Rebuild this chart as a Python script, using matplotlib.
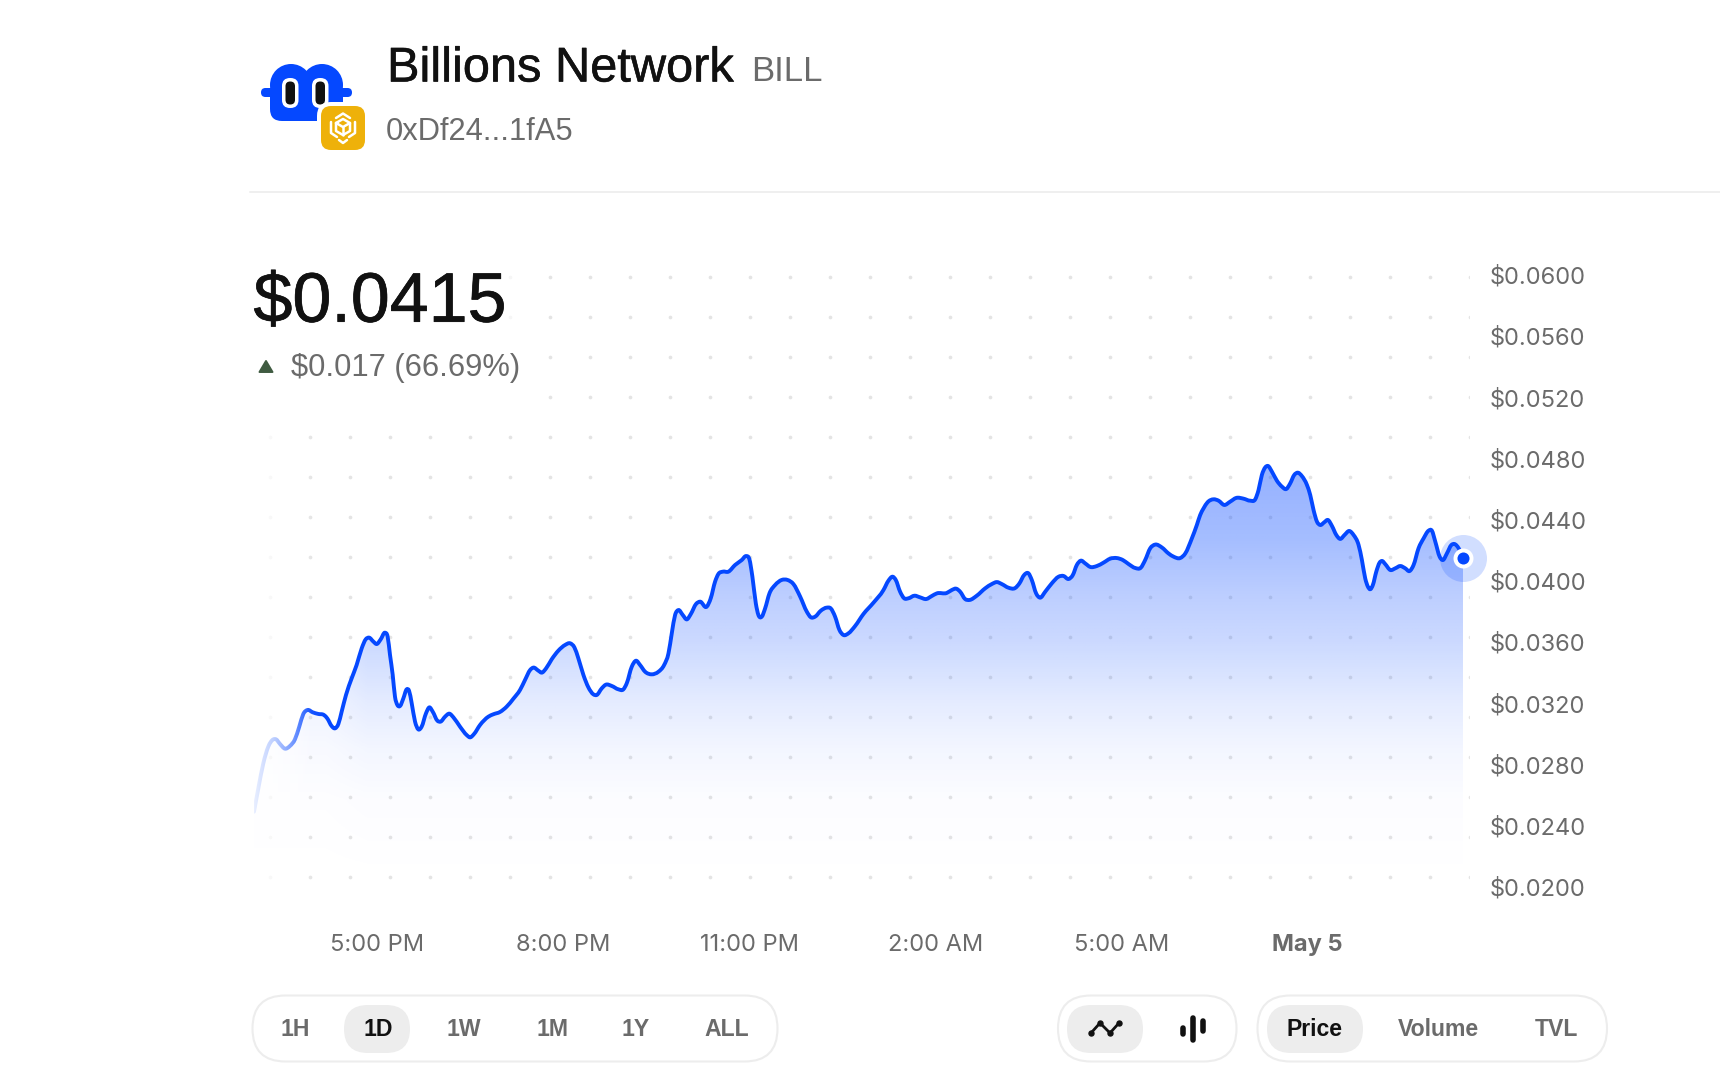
import numpy as np
import matplotlib
matplotlib.use("Agg")
from matplotlib import pyplot as plt
from matplotlib.path import Path
from matplotlib.patches import Circle, FancyBboxPatch, PathPatch, Polygon, Rectangle
import matplotlib.patheffects as pe

# minutes after 5:00 PM
minutes = [
    -119.0, -114.8, -110.0, -105.2, -100.3, -97.7, -93.9, -89.0, -84.2, -79.4, -75.2, -71.3, -67.1, -62.3,
    -56.8, -51.3, -48.1, -43.9, -40.6, -37.4, -34.2, -30.0, -24.5, -19.7, -14.8, -10.9, -7.7, -3.5, -0.3,
    3.6, 7.7, 10.3, 12.6, 15.2, 17.4, 19.7, 22.3, 25.5, 28.7, 31.0, 33.6, 36.8, 40.0, 43.2, 47.4, 50.6,
    53.9, 58.4, 61.6, 65.8, 70.0, 73.9, 80.3, 86.8, 90.0, 93.9, 99.7, 107.7, 112.6, 119.0, 125.5, 132.0,
    138.4, 143.2, 148.1, 151.3, 156.1, 159.4, 163.6, 169.0, 175.5, 182.0, 186.8, 191.0, 194.8, 199.7,
    204.5, 209.4, 212.6, 217.4, 221.3, 227.1, 233.6, 238.4, 241.6, 246.5, 250.6, 254.5, 259.4, 265.8,
    272.3, 277.8, 282.0, 285.2, 288.4, 291.6, 295.8, 299.7, 303.6, 308.7,
    312.6, 319.0, 322.9, 327.1, 330.3, 334.5, 340.0, 346.5, 352.9, 357.1, 360.3, 363.2, 366.5, 369.0,
    372.3, 375.5, 379.7, 385.2, 391.6, 397.1, 402.9, 409.4, 415.8, 419.7, 423.9, 429.4, 435.2, 439.0,
    443.2, 447.4, 451.3, 456.1, 462.6, 470.6, 480.3, 490.0, 494.8, 499.0, 501.9, 506.1, 510.0, 514.2,
    520.0, 525.5, 531.3, 536.8, 541.6, 551.3, 556.1, 560.3, 564.2, 569.0, 573.2, 580.3, 588.4, 594.8,
    599.7, 604.5, 611.0, 617.4, 621.6, 626.1, 630.3, 633.5, 637.7, 641.6, 646.5, 652.9, 659.4, 664.2,
    669.0, 673.2, 677.1, 681.0, 685.2, 690.0, 696.5, 702.9, 709.4, 715.8, 721.6, 727.1, 733.6, 739.0,
    743.2, 748.1, 752.9, 759.4, 765.8, 770.7, 777.1, 782.0, 788.4, 793.2,
    796.4, 799.7, 803.5, 809.4, 814.2, 819.7, 825.5, 831.3, 838.4, 844.8, 849.7, 852.9, 856.1, 859.4,
    862.0, 865.8, 870.6, 875.5, 879.7, 883.5, 887.4, 891.0, 894.8, 899.7, 902.9, 906.1, 909.4, 912.6,
    916.5, 920.0, 923.9, 928.1, 931.9, 936.1, 940.6, 944.8, 949.7, 952.9, 956.1, 958.7, 961.0, 963.5,
    966.8, 970.0, 972.3, 975.5, 980.3, 985.2, 990.0, 994.8, 999.0, 1002.9, 1007.7, 1012.6, 1017.4,
    1020.6, 1023.9, 1028.1, 1031.3, 1035.2, 1039.4, 1042.3, 1046.5, 1050.7,
]
prices = [
    .02492, .02645, .02808, .02917, .02965, .02965, .02935, .02904, .02922, .02965, .03048, .03131, .03157, .03142,
    .03131, .03124, .03102, .03052, .03037, .03065, .03146, .03255, .03364, .03451, .03560, .03619, .03630, .03604, .03588,
    .03619, .03662, .03636, .03516, .03386, .03244, .03190, .03183, .03233, .03292, .03283, .03200, .03081, .03030, .03048, .03135, .03174,
    .03146, .03087, .03081, .03113, .03133, .03109, .03048, .02993, .02978, .03000, .03059, .03113, .03129, .03144, .03179, .03231,
    .03288, .03353, .03418, .03434, .03414, .03401, .03429, .03488, .03545, .03582, .03593, .03566, .03495, .03386,
    .03305, .03259, .03255, .03298, .03322, .03314, .03292, .03292, .03331, .03440, .03479, .03451, .03407, .03390,
    .03407, .03451, .03527, .03658, .03778, .03810, .03778, .03749, .03784, .03850,
    .03865, .03832, .03887, .03996, .04046, .04061, .04061, .04105, .04137, .04163, .04142, .04028, .03854, .03778,
    .03767, .03821, .03919, .03974, .04007, .04007, .03980, .03898, .03800, .03763, .03767, .03806, .03826, .03821,
    .03767, .03680, .03647, .03658, .03706, .03784, .03858, .03941, .04002, .04028, .04007, .03930, .03887, .03887,
    .03904, .03893, .03882, .03902, .03919, .03922, .03941, .03950, .03930, .03882, .03876, .03904, .03952, .03980,
    .03993, .03980, .03956, .03954, .03985, .04039, .04050, .04007, .03919, .03891, .03930, .03985, .04028, .04033,
    .04013, .04039, .04105, .04133, .04115, .04092, .04098, .04120, .04146, .04150, .04137, .04111, .04085, .04087,
    .04137, .04214, .04238, .04219, .04180, .04159, .04150, .04180, .04279, .04366,
    .04431, .04475, .04514, .04534, .04525, .04497, .04519, .04543, .04538, .04525, .04534, .04595, .04693, .04743,
    .04752, .04715, .04656, .04617, .04601, .04638, .04693, .04708, .04686, .04628, .04562, .04464, .04388, .04366,
    .04384, .04399, .04360, .04301, .04275, .04301, .04327, .04301, .04235, .04137, .04017, .03963, .03946, .03974,
    .04061, .04120, .04131, .04110, .04072, .04083, .04098, .04083, .04065, .04105, .04214, .04279, .04329,
    .04329, .04257, .04159, .04137, .04181, .04235, .04242, .04214, .04153,
]
y_ticks = [0.02, 0.024, 0.028, 0.032, 0.036, 0.04, 0.044, 0.048, 0.052, 0.056, 0.06]
y_labels = ["$0.0200", "$0.0240", "$0.0280", "$0.0320", "$0.0360", "$0.0400", "$0.0440", "$0.0480", "$0.0520", "$0.0560", "$0.0600"]
x_ticks = [0, 180, 360, 540, 720, 900]
x_labels = ["5:00 PM", "8:00 PM", "11:00 PM", "2:00 AM", "5:00 AM", "May 5"]
ranges = ["1H", "1D", "1W", "1M", "1Y", "ALL"]
metrics = ["Price", "Volume", "TVL"]

W, H = 1720, 1084
BLUE = "#0548FF"
DARK = "#111111"
GREY = "#6B6B6B"
BORDER = "#EDEDED"
FILL = "#EDEDED"
plt.rcParams["font.family"] = ["Liberation Sans", "DejaVu Sans"]


def smooth_path(xs, ys):
    # cubic segments through the samples, slope from the two neighbours
    xs, ys = np.asarray(xs), np.asarray(ys)
    slope = np.gradient(ys, xs)
    verts = [(xs[0], ys[0])]
    codes = [Path.MOVETO]
    for i in range(len(xs) - 1):
        dx = xs[i + 1] - xs[i]
        verts += [(xs[i] + dx / 3, ys[i] + slope[i] * dx / 3),
                  (xs[i + 1] - dx / 3, ys[i + 1] - slope[i + 1] * dx / 3),
                  (xs[i + 1], ys[i + 1])]
        codes += [Path.CURVE4] * 3
    return verts, codes


def pill(ax, x0, y0, x1, y1, face="none", edge="none", lw=0.0, z=2):
    r = (y1 - y0) / 2
    ax.add_patch(FancyBboxPatch((x0 + r, y0 + r), x1 - x0 - 2 * r, 0,
                                boxstyle="round,pad=%f,rounding_size=%f" % (r, r),
                                fc=face, ec=edge, lw=lw, zorder=z))


def rounded(ax, x0, y0, x1, y1, r, color, z):
    ax.add_patch(FancyBboxPatch((x0, y0), x1 - x0, y1 - y0, boxstyle="round,pad=0,rounding_size=%f" % r,
                                fc=color, ec="none", zorder=z))


fig = plt.figure(figsize=(W / 100, H / 100), dpi=100, facecolor="white")

# page layer, measured in pixels from the top left
bg = fig.add_axes([0, 0, 1, 1], zorder=0)
bg.set_xlim(0, W)
bg.set_ylim(H, 0)
bg.axis("off")

# dot lattice behind the plot
for row in range(16):
    y = 277 + 40 * row
    start = 550 if row < 4 else 270
    xs = np.arange(start, 1471, 40)
    bg.scatter(xs, np.full(len(xs), y), s=7, color="#E4E4E4", linewidths=0, zorder=1)
    if row < 2:
        bg.scatter([510], [y], s=7, color="#F6F6F6", linewidths=0, zorder=1)
bg.add_patch(Rectangle((1470, 260), 30, 640, fc="white", ec="none", zorder=1.5))

# price plot
left, right, top, bottom = 254, 1463, 275, 887
ax = fig.add_axes([left / W, 1 - bottom / H, (right - left) / W, (bottom - top) / H], zorder=1)
ax.patch.set_alpha(0)
ax.set_xlim(minutes[0], minutes[-1])
ax.set_ylim(0.02, 0.06)
for s in ax.spines.values():
    s.set_visible(False)

verts, codes = smooth_path(minutes, prices)
area = Path(verts + [(minutes[-1], 0.02), (minutes[0], 0.02), (minutes[0], prices[0])],
            codes + [Path.LINETO, Path.LINETO, Path.CLOSEPOLY])

# gradient under the line, fading down and towards the left edge
stop_y = [0.02, 0.0257, 0.0290, 0.0322, 0.0361, 0.0387, 0.0427, 0.0470]
stop_a = [0.0, 0.015, 0.05, 0.11, 0.21, 0.26, 0.36, 0.42]
grad_y = np.linspace(0.02, 0.05, 300)
grad_x = np.linspace(minutes[0], minutes[-1], 600)
rgba = np.zeros((300, 600, 4))
rgba[:, :, :3] = matplotlib.colors.to_rgb(BLUE)
rgba[:, :, 3] = np.outer(np.interp(grad_y, stop_y, stop_a), np.interp(grad_x, [-50, -10], [0.6, 1.0]))
im = ax.imshow(rgba, extent=[minutes[0], minutes[-1], 0.02, 0.05], origin="lower", aspect="auto", zorder=2)
im.set_clip_path(PathPatch(area, transform=ax.transData))

ax.add_patch(PathPatch(Path(verts, codes), fc="none", ec=BLUE, lw=2.8, capstyle="round", joinstyle="round", zorder=3))

# current price marker
ax.scatter(minutes[-1], prices[-1], s=1145, color=BLUE, alpha=0.18, linewidths=0, clip_on=False, zorder=4)
ax.scatter(minutes[-1], prices[-1], s=207, color="white", linewidths=0, clip_on=False, zorder=5)
ax.scatter(minutes[-1], prices[-1], s=75, color=BLUE, linewidths=0, clip_on=False, zorder=6)

ax.yaxis.tick_right()
ax.set_yticks(y_ticks, y_labels, family="Inter")
ax.set_xticks(x_ticks, x_labels, family="Inter")
ax.tick_params(axis="both", length=0, labelcolor=GREY, labelsize=17)
ax.tick_params(axis="y", pad=19.5)
ax.tick_params(axis="x", pad=33.5)
ax.get_xticklabels()[-1].set_fontweight("bold")

# front layer: left fade, header and controls
fg = fig.add_axes([0, 0, 1, 1], zorder=2)
fg.set_xlim(0, W)
fg.set_ylim(H, 0)
fg.axis("off")
fade = np.ones((1, 100, 4))
fade[0, :, 3] = np.interp(np.linspace(250, 325, 100), [250, 273, 290, 303, 312, 325], [0.95, 0.75, 0.5, 0.25, 0.06, 0])
fg.imshow(fade, extent=[250, 325, 900, 270], aspect="auto", zorder=1)
fg.set_xlim(0, W)
fg.set_ylim(H, 0)

fg.plot([250, W], [191.7, 191.7], color="#EBEBEB", lw=1.1, zorder=2)

# logo
rounded(fg, 261, 88, 352, 97, 4.5, BLUE, 2)
rounded(fg, 270, 80, 343, 121, 12, BLUE, 2)
fg.add_patch(Circle((291, 85), 21, fc=BLUE, ec="none", zorder=2))
fg.add_patch(Circle((322, 85), 21, fc=BLUE, ec="none", zorder=2))
for x0 in (282, 312):
    rounded(fg, x0, 78, x0 + 16.5, 108, 8, "white", 3)
    rounded(fg, x0 + 3.5, 81.5, x0 + 13, 104.5, 4.7, DARK, 4)

# chain badge
rounded(fg, 317, 102, 369, 154, 14, "white", 5)
rounded(fg, 321, 106, 365, 150, 10, "#EEB10A", 6)
cube = [
    [(336, 118), (343, 113.5), (350, 118)],
    [(331, 122), (331, 133), (337, 137)],
    [(355, 122), (355, 133), (349, 137)],
    [(339, 140), (343, 143), (347, 140)],
    [(336, 123), (343, 119), (350, 123), (343, 127), (336, 123)],
    [(336, 123), (336, 131), (343, 135), (350, 131), (350, 123)],
    [(343, 127), (343, 135)],
]
for seg in cube:
    seg = np.array(seg)
    fg.plot(seg[:, 0], seg[:, 1], color="white", lw=1.8, solid_capstyle="round", solid_joinstyle="round", zorder=7)

fg.text(387, 81.5, "Billions Network", fontsize=35.1, color=DARK, va="baseline", zorder=8,
        path_effects=[pe.withStroke(linewidth=0.4, foreground=DARK)])
fg.text(751, 80.7, "BILL", fontsize=25, color=GREY, va="baseline", zorder=8)
fg.text(386, 140, "0xDf24...1fA5", fontsize=22.2, color=GREY, va="baseline", zorder=8)
fg.text(253.5, 321.7, "$0.0415", fontsize=50.4, color=DARK, va="baseline", zorder=8,
        path_effects=[pe.withStroke(linewidth=0.5, foreground=DARK)])
fg.text(291, 376, "$0.017 (66.69%)", fontsize=22.2, color=GREY, va="baseline", zorder=8)
fg.add_patch(Polygon([(266, 361), (272.5, 372), (259.5, 372)], closed=True, fc="#3F5B41", ec="#3F5B41",
                     lw=1.4, joinstyle="round", zorder=8))

# range selector
pill(fg, 252.5, 995.5, 777.5, 1061.5, edge=BORDER, lw=1.5)
pill(fg, 344, 1005, 410, 1053, face=FILL)
for label, cx in zip(ranges, [295, 378.5, 464, 552, 636, 726.5]):
    fg.text(cx, 1030, label, fontsize=16.6, fontweight="bold", color=DARK if label == "1D" else GREY,
            ha="center", va="center", zorder=8)

# chart type selector
pill(fg, 1058, 995.5, 1236.5, 1061.5, edge=BORDER, lw=1.5)
pill(fg, 1067, 1005, 1143, 1053, face=FILL)
fg.plot([1091, 1100, 1110, 1119], [1033, 1023, 1033, 1023], color=DARK, lw=2, marker="o", ms=3.6,
        solid_joinstyle="round", zorder=8)
for bx, y0, y1 in [(1182.6, 1026, 1036), (1192.7, 1016, 1042), (1203, 1019, 1033)]:
    fg.plot([bx, bx], [y0 + 2, y1 - 2], color=DARK, lw=4, solid_capstyle="round", zorder=8)

# metric selector
pill(fg, 1257.5, 995.5, 1607, 1061.5, edge=BORDER, lw=1.5)
pill(fg, 1267, 1005, 1363, 1053, face=FILL)
for label, cx in zip(metrics, [1314.5, 1438.5, 1556.5]):
    fg.text(cx, 1030, label, fontsize=16.6, fontweight="bold", color=DARK if label == "Price" else GREY,
            ha="center", va="center", zorder=8)

fig.savefig("out.png", dpi=100, facecolor="white")
